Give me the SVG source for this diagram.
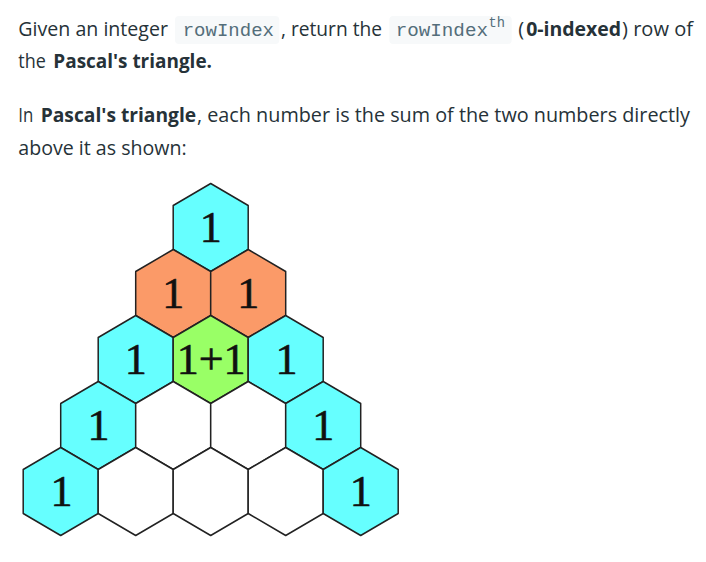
<svg xmlns="http://www.w3.org/2000/svg" xmlns:xlink="http://www.w3.org/1999/xlink" width="706" height="562" viewBox="0 0 706 562">
<style>
.t{font-family:"Open Sans","Noto Sans","Liberation Sans",sans-serif;font-size:20px;fill:#263238}
.b{font-weight:bold}
.m{font-family:"Liberation Mono","DejaVu Sans Mono",monospace;font-size:18.5px;fill:#546e7a}
.code{fill:#f7f9fa}
.hex{stroke:#222;stroke-width:1.5;stroke-linejoin:round}
.cy{fill:#66ffff}.or{fill:#fb9a68}.gr{fill:#99ff66}.wh{fill:#ffffff}
.n{font-family:"Liberation Serif","Times New Roman",serif;font-size:44px;fill:#111;stroke:#111;stroke-width:0.6;text-anchor:middle}
</style>
<defs>
<polygon id="hx" points="0,-44 37.5,-22 37.5,22 0,44 -37.5,22 -37.5,-22"/>
</defs>
<rect width="706" height="562" fill="#ffffff"/>
<g id="text">
<text class="t" x="18.3" y="35.5" textLength="149.7" lengthAdjust="spacingAndGlyphs">Given an integer</text>
<rect class="code" x="175" y="16" width="104.3" height="28" rx="4"/>
<text class="m" x="182.7" y="35.5" textLength="91.3" lengthAdjust="spacingAndGlyphs">rowIndex</text>
<text class="t" x="281" y="35.5" textLength="101" lengthAdjust="spacingAndGlyphs">, return the</text>
<rect class="code" x="389.3" y="16" width="122.4" height="28" rx="4"/>
<text class="m" x="395.7" y="35.5" textLength="92.3" lengthAdjust="spacingAndGlyphs">rowIndex</text>
<text class="m" x="488.5" y="27" style="font-size:14px" textLength="16.5" lengthAdjust="spacingAndGlyphs">th</text>
<text class="t" x="518.3" y="35.5">(</text>
<text class="t b" x="526.2" y="35.5" textLength="95" lengthAdjust="spacingAndGlyphs">0-indexed</text>
<text class="t" x="622" y="35.5" textLength="71" lengthAdjust="spacingAndGlyphs">) row of</text>
<text class="t" x="18.3" y="68.3" textLength="27.5" lengthAdjust="spacingAndGlyphs">the</text>
<text class="t b" x="53.3" y="68.3" textLength="158.7" lengthAdjust="spacingAndGlyphs">Pascal's triangle.</text>
<text class="t" x="18.3" y="121.7" textLength="15" lengthAdjust="spacingAndGlyphs">In</text>
<text class="t b" x="40.7" y="121.7" textLength="155.5" lengthAdjust="spacingAndGlyphs">Pascal's triangle</text>
<text class="t" x="197" y="121.7" textLength="493" lengthAdjust="spacingAndGlyphs">, each number is the sum of the two numbers directly</text>
<text class="t" x="18.3" y="155" textLength="168.4" lengthAdjust="spacingAndGlyphs">above it as shown:</text>
</g>
<g id="r0c0"><use xlink:href="#hx" class="hex cy" x="210.7" y="227.5"/><text class="n" x="210.7" y="242">1</text></g>
<g id="r1c0"><use xlink:href="#hx" class="hex or" x="173.2" y="293.5"/><text class="n" x="173.2" y="308">1</text></g>
<g id="r1c1"><use xlink:href="#hx" class="hex or" x="248.2" y="293.5"/><text class="n" x="248.2" y="308">1</text></g>
<g id="r2c0"><use xlink:href="#hx" class="hex cy" x="135.7" y="359.5"/><text class="n" x="135.7" y="374">1</text></g>
<g id="r2c1"><use xlink:href="#hx" class="hex gr" x="210.7" y="359.5"/><text class="n" x="211.2" y="374">1+1</text></g>
<g id="r2c2"><use xlink:href="#hx" class="hex cy" x="285.7" y="359.5"/><text class="n" x="286.5" y="374">1</text></g>
<g id="r3c0"><use xlink:href="#hx" class="hex cy" x="98.2" y="425.5"/><text class="n" x="98.4" y="440">1</text></g>
<g id="r3c1"><use xlink:href="#hx" class="hex wh" x="173.2" y="425.5"/></g>
<g id="r3c2"><use xlink:href="#hx" class="hex wh" x="248.2" y="425.5"/></g>
<g id="r3c3"><use xlink:href="#hx" class="hex cy" x="323.2" y="425.5"/><text class="n" x="323.2" y="440">1</text></g>
<g id="r4c0"><use xlink:href="#hx" class="hex cy" x="60.7" y="491.5"/><text class="n" x="61.6" y="506">1</text></g>
<g id="r4c1"><use xlink:href="#hx" class="hex wh" x="135.7" y="491.5"/></g>
<g id="r4c2"><use xlink:href="#hx" class="hex wh" x="210.7" y="491.5"/></g>
<g id="r4c3"><use xlink:href="#hx" class="hex wh" x="285.7" y="491.5"/></g>
<g id="r4c4"><use xlink:href="#hx" class="hex cy" x="360.7" y="491.5"/><text class="n" x="360.8" y="506">1</text></g>
</svg>
